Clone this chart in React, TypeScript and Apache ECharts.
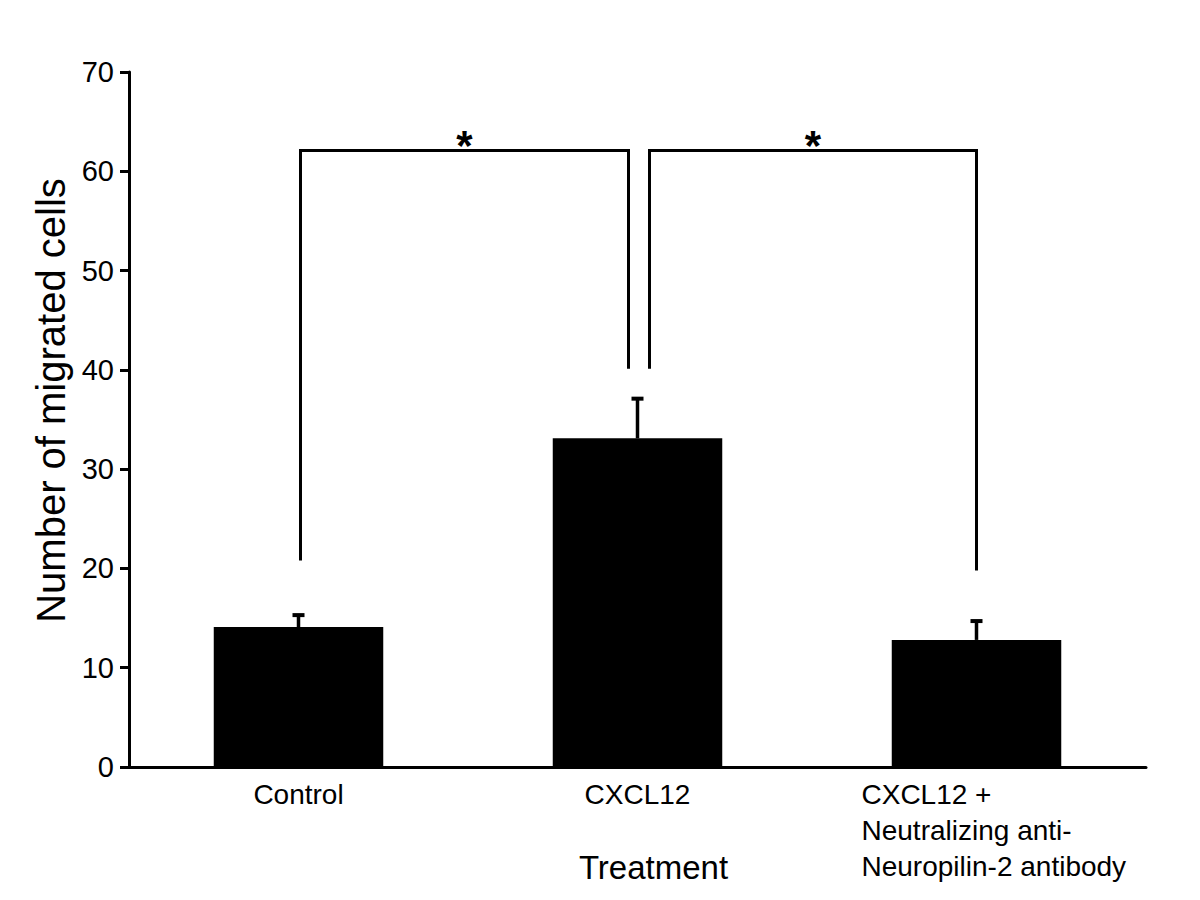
import React, { useEffect, useRef } from "react";
import * as echarts from "echarts";

const CATEGORIES = ["Control", "CXCL12", "CXCL12 +\nNeutralizing anti-\nNeuropilin-2 antibody"];
const MEANS = [14.1, 33.1, 12.8];
const ERRORS = [1.4, 4.2, 2.1];
const Y_MIN = 0;
const Y_MAX = 70;
const Y_INTERVAL = 10;
// significance brackets: [fromIndex, toIndex, topValue, fromBottomValue, toBottomValue]
const BRACKETS = [
  [0, 1, 62.1, 20.8, 40.1],
  [1, 2, 62.1, 40.1, 19.8],
];
const BRACKET_LABELS = ["*", "*"];
const Y_TITLE = "Number of migrated cells";
const X_TITLE = "Treatment";

const FONT = "'Liberation Sans', Arial, Helvetica, sans-serif";
const BRACKET_INSET = [
  [2, -9],
  [12, 0],
];

export default function App() {
  const ref = useRef<HTMLDivElement>(null);
  useEffect(() => {
    if (!ref.current) return;
    const chart = echarts.init(ref.current, null, { renderer: "svg" });
    const option = {
      animation: false,
      backgroundColor: "#ffffff",
      grid: { left: 129, right: 54, top: 72, bottom: 133, containLabel: false, outerBoundsMode: "none" },
      xAxis: {
        type: "category",
        data: CATEGORIES,
        name: X_TITLE,
        nameLocation: "middle",
        nameGap: 84,
        nameMoveOverlap: false,
        nameTextStyle: { fontSize: 33, color: "#000", fontFamily: FONT, padding: [0, 0, 0, 32] },
        axisLine: { lineStyle: { color: "#000", width: 3 } },
        axisTick: { show: false },
        axisLabel: {
          interval: 0,
          margin: 9,
          color: "#000",
          fontSize: 28,
          lineHeight: 36,
          fontFamily: FONT,
          formatter: (val: string, idx: number) => (idx === 2 ? `{left|${val}}` : val),
          rich: {
            left: { width: 230, align: "left", fontSize: 28, lineHeight: 36, color: "#000", fontFamily: FONT },
          },
        },
        splitLine: { show: false },
      },
      yAxis: {
        type: "value",
        min: Y_MIN,
        max: Y_MAX,
        interval: Y_INTERVAL,
        name: Y_TITLE,
        nameLocation: "middle",
        nameRotate: 90,
        nameGap: 57,
        nameTextStyle: { fontSize: 40, color: "#000", fontFamily: FONT, padding: [0, 0, 0, 38] },
        axisLine: { show: true, lineStyle: { color: "#000", width: 3 } },
        axisTick: { show: true, length: 9, lineStyle: { color: "#000", width: 3 } },
        axisLabel: { color: "#000", fontSize: 29, fontFamily: FONT, margin: 15 },
        splitLine: { show: false },
      },
      series: [
        {
          type: "bar",
          data: MEANS,
          barWidth: "50%",
          itemStyle: { color: "#000" },
          z: 2,
        },
        {
          type: "custom",
          z: 1,
          data: MEANS.map((m, i) => [i, m, ERRORS[i]]),
          encode: { x: 0, y: 1 },
          renderItem: (params: any, api: any) => {
            const i = api.value(0);
            const m = api.value(1);
            const e = api.value(2);
            const p0 = api.coord([i, m]);
            const p1 = api.coord([i, m + e]);
            return {
              type: "group",
              children: [
                {
                  type: "line",
                  shape: { x1: p0[0], y1: p0[1], x2: p1[0], y2: p1[1] + 2 },
                  style: { stroke: "#000", lineWidth: 3.5 },
                },
                {
                  type: "line",
                  shape: { x1: p1[0] - 6, y1: p1[1] + 2, x2: p1[0] + 6, y2: p1[1] + 2 },
                  style: { stroke: "#000", lineWidth: 4 },
                },
              ],
            };
          },
        },
        {
          type: "custom",
          z: 3,
          data: BRACKETS,
          encode: { x: 0, y: 2 },
          renderItem: (params: any, api: any) => {
            const idx = params.dataIndex;
            const from = api.value(0);
            const to = api.value(1);
            const top = api.value(2);
            const fb = api.value(3);
            const tb = api.value(4);
            const inset = BRACKET_INSET[idx] || [0, 0];
            const a = api.coord([from, fb]);
            const b = api.coord([from, top]);
            const c = api.coord([to, top]);
            const d = api.coord([to, tb]);
            const x1 = a[0] + inset[0];
            const x2 = d[0] + inset[1];
            return {
              type: "group",
              children: [
                {
                  type: "polyline",
                  shape: {
                    points: [
                      [x1, a[1]],
                      [x1, b[1]],
                      [x2, c[1]],
                      [x2, d[1]],
                    ],
                  },
                  style: { stroke: "#000", lineWidth: 3, fill: "none" },
                },
                {
                  type: "text",
                  style: {
                    text: BRACKET_LABELS[idx],
                    x: (x1 + x2) / 2,
                    y: b[1] + 16,
                    align: "center",
                    verticalAlign: "bottom",
                    fontSize: 42,
                    fontWeight: "bold",
                    fontFamily: FONT,
                    fill: "#000",
                  },
                },
              ],
            };
          },
        },
      ],
    };
    chart.setOption(option as any);
    return () => chart.dispose();
  }, []);
  return (
    <div
      ref={ref}
      style={{ position: "fixed", left: 0, top: 0, width: 1200, height: 900, background: "#fff" }}
    />
  );
}
